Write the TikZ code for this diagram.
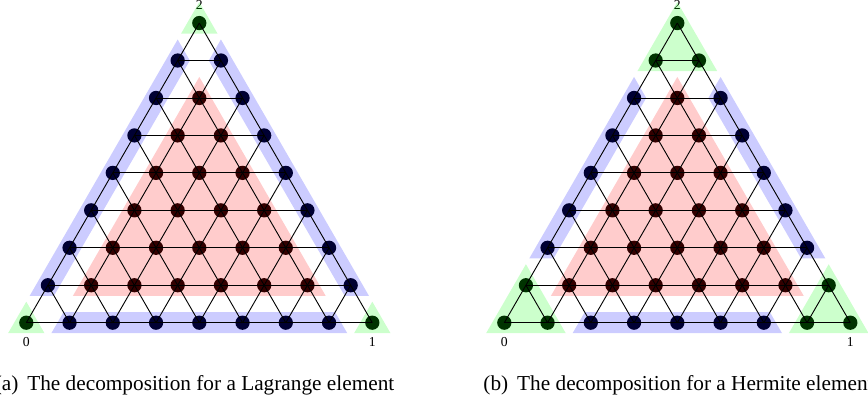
\documentclass[tikz,border=0pt]{standalone}
\usepackage{fontspec}
\setmainfont{Liberation Serif}

% regions round groups of points (fill opacity 0.2 over the dots)
\newcommand{\regtri}[4]{\fill[#1] ([shift={(-0.421,-0.243)}]#2) -- ([shift={(0.421,-0.243)}]#3) -- ([shift={(0,0.486)}]#4) -- cycle;}
\newcommand{\regbot}[3]{\fill[#1] ([shift={(-0.421,-0.243)}]#2) -- ([shift={(0.421,-0.243)}]#3) -- ([shift={(0.140,0.243)}]#3) -- ([shift={(-0.140,0.243)}]#2) -- cycle;}
\newcommand{\regleft}[3]{\fill[#1] ([shift={(-0.421,-0.243)}]#2) -- ([shift={(0.140,-0.243)}]#2) -- ([shift={(0.281,0)}]#3) -- ([shift={(0,0.486)}]#3) -- cycle;}
\newcommand{\regright}[3]{\fill[#1] ([shift={(0.421,-0.243)}]#2) -- ([shift={(-0.140,-0.243)}]#2) -- ([shift={(-0.281,0)}]#3) -- ([shift={(0,0.486)}]#3) -- cycle;}

\tikzset{
  lattice/.style={line width=0.6pt},
  vreg/.style={fill=green, fill opacity=0.2},
  ereg/.style={fill=blue, fill opacity=0.2},
  ireg/.style={fill=red, fill opacity=0.2},
  vlabel/.style={font=\fontsize{9}{10}\selectfont, inner sep=0pt},
  subcap/.style={font=\fontsize{14}{16}\selectfont, anchor=base, inner sep=0pt},
}

\begin{document}
\begin{tikzpicture}
    \useasboundingbox (-0.608,-1.787) rectangle (19.461,7.461);

    % points of the degree 8 lattice
    \foreach \f/\ox in {a/0, b/11.052} {
        \foreach \j in {0,...,8} {
            \pgfmathtruncatemacro\n{8-\j}
            \foreach \i in {0,...,\n} {
                \coordinate (\f-\i-\j) at ({\ox+\i+\j/2}, {\j*0.866});
                \fill (\f-\i-\j) circle (0.165);
            }
        }
        \node[vlabel] (\f-n0) at ([yshift=-0.44cm]\f-0-0) {0};
        \node[vlabel] (\f-n1) at ([yshift=-0.44cm]\f-8-0) {1};
        \node[vlabel] (\f-n2) at ([yshift=0.41cm]\f-0-8) {2};
    }

    % (a) Lagrange
    \regtri{vreg}{a-0-0}{a-0-0}{a-0-0}
    \regtri{vreg}{a-8-0}{a-8-0}{a-8-0}
    \regtri{vreg}{a-0-8}{a-0-8}{a-0-8}
    \regbot{ereg}{a-1-0}{a-7-0}
    \regleft{ereg}{a-0-1}{a-0-7}
    \regright{ereg}{a-7-1}{a-1-7}
    \regtri{ireg}{a-1-1}{a-6-1}{a-1-6}

    % (b) Hermite
    \regtri{vreg}{b-0-0}{b-1-0}{b-0-1}
    \regtri{vreg}{b-7-0}{b-8-0}{b-7-1}
    \regtri{vreg}{b-0-7}{b-1-7}{b-0-8}
    \regbot{ereg}{b-2-0}{b-6-0}
    \regleft{ereg}{b-0-2}{b-0-6}
    \regright{ereg}{b-6-2}{b-2-6}
    \regtri{ireg}{b-1-1}{b-6-1}{b-1-6}

    % lattice lines
    \foreach \f in {a,b} {
        \foreach \k in {0,...,7} {
            \pgfmathtruncatemacro\m{8-\k}
            \draw[lattice] (\f-0-\k) -- (\f-\m-\k);
            \draw[lattice] (\f-\k-0) -- (\f-\k-\m);
            \draw[lattice] (\f-\m-0) -- (\f-0-\m);
        }
    }

    \node[subcap] (a-cap) at (3.89,-1.556) {(a)\hspace{0.42em}The decomposition for a Lagrange element};
    \node[subcap] (b-cap) at (15.08,-1.556) {(b)\hspace{0.42em}The decomposition for a Hermite element};
\end{tikzpicture}
\end{document}
